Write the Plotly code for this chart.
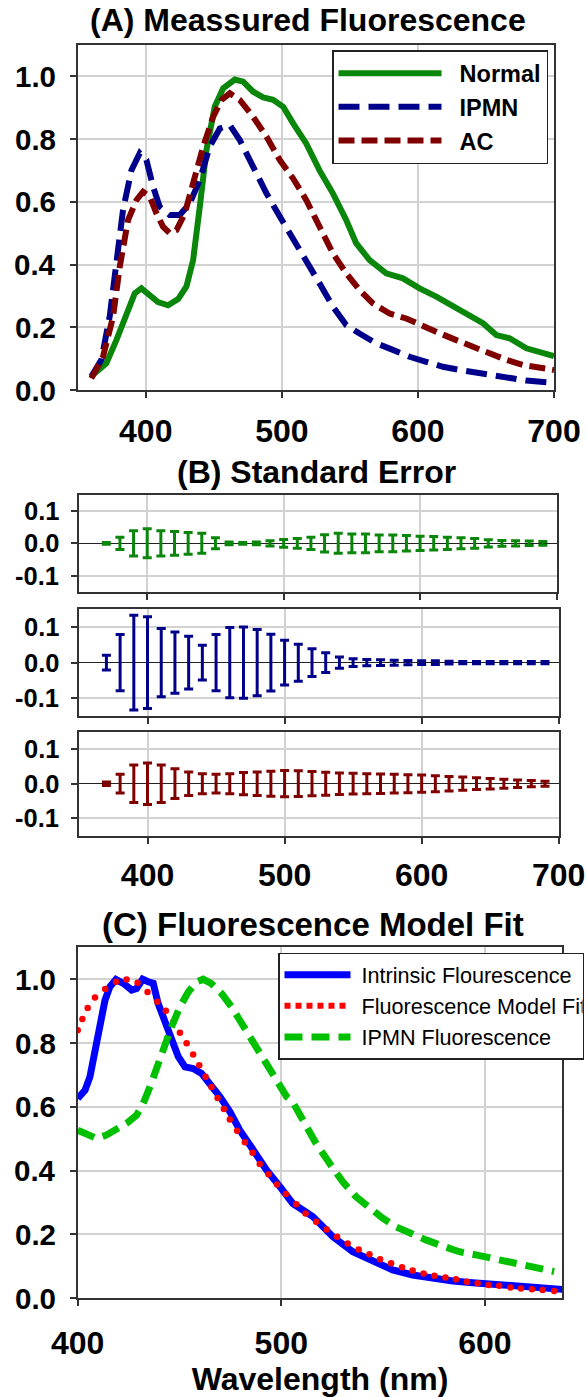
import plotly.graph_objects as go

W, H = 587, 1397

# ---------------- Panel A data ----------------
wl_normal = [361, 371, 378.5, 385.8, 391.9, 396.8, 401.7, 409, 416.4, 423.8, 429.9, 434.8, 439.7, 444.6, 450.7, 456.9,
             465.4, 471.6, 478.9, 486.3, 493.6, 501, 508.3, 517.9, 527.7, 537.5, 547.3, 554.6, 564.5, 576.7, 589,
             601.2, 613.5, 625.7, 638, 647.8, 657.6, 667.4, 679.7, 692, 700]
normal = [0.048, 0.085, 0.16, 0.244, 0.308, 0.324, 0.308, 0.28, 0.27, 0.29, 0.33, 0.414, 0.584, 0.765, 0.903, 0.962,
          0.99, 0.983, 0.951, 0.933, 0.925, 0.903, 0.85, 0.786, 0.70, 0.627, 0.542, 0.468, 0.414, 0.372, 0.356,
          0.324, 0.298, 0.266, 0.234, 0.213, 0.175, 0.165, 0.133, 0.115, 0.108]

wl_ipmn = [360, 367.4, 373.5, 378.5, 383.3, 389.5, 395.6, 400.5, 405.4, 410.3, 417.6, 425, 432.4, 439.7, 447, 454.4,
           461.8, 469.1, 478.9, 488.7, 498.5, 508.2, 517.9, 527.7, 537.5, 547.3, 557.1, 569.3, 581.6, 593.9, 606.1,
           618.4, 630.7, 642.9, 655.1, 667.4, 679.7, 700]
ipmn = [0.043, 0.096, 0.234, 0.393, 0.574, 0.701, 0.755, 0.733, 0.648, 0.584, 0.558, 0.558, 0.595, 0.67, 0.776, 0.834,
        0.845, 0.797, 0.712, 0.627, 0.553, 0.485, 0.414, 0.34, 0.266, 0.207, 0.18, 0.149, 0.128, 0.106, 0.09,
        0.074, 0.064, 0.055, 0.048, 0.037, 0.03, 0.023]

wl_ac = [360, 368.6, 376, 380.9, 387, 393.2, 398, 403, 407.9, 412.7, 417.6, 422.6, 428.7, 434.8, 442.2, 449.5, 455.7,
         461.8, 469.1, 478.9, 488.7, 498.5, 508.2, 517.9, 527.7, 537.5, 547.3, 557.1, 566.9, 579.2, 591.4, 603.7,
         616, 628.2, 640.4, 652.7, 665, 677.2, 689.5, 700]
ac = [0.037, 0.106, 0.234, 0.393, 0.542, 0.606, 0.632, 0.616, 0.563, 0.521, 0.50, 0.51, 0.563, 0.659, 0.776, 0.871, 0.925,
      0.946, 0.925, 0.871, 0.808, 0.733, 0.675, 0.606, 0.52, 0.436, 0.372, 0.319, 0.276, 0.244, 0.228, 0.207,
      0.181, 0.159, 0.138, 0.117, 0.096, 0.08, 0.069, 0.064]

# ---------------- Panel B data (standard error) ----------------
wl_se = [370, 380, 390, 400, 410, 420, 430, 440, 450, 460, 470, 480, 490, 500, 510, 520, 530,
         540, 550, 560, 570, 580, 590, 600, 610, 620, 630, 640, 650, 660, 670, 680, 690]
se_center = [0.0] * len(wl_se)
se_normal = [0.003, 0.019, 0.039, 0.045, 0.039, 0.037, 0.034, 0.031, 0.017, 0.004, 0.003, 0.004, 0.008, 0.012, 0.015, 0.019, 0.027,
             0.031, 0.029, 0.029, 0.026, 0.026, 0.024, 0.022, 0.021, 0.019, 0.017, 0.015, 0.011, 0.009, 0.008, 0.007, 0.006]
se_ipmn = [0.021, 0.079, 0.133, 0.129, 0.096, 0.086, 0.074, 0.049, 0.079, 0.099, 0.1, 0.093, 0.08, 0.063, 0.052, 0.039, 0.028,
           0.016, 0.011, 0.009, 0.008, 0.007, 0.006, 0.005, 0.005, 0.004, 0.003, 0.003, 0.003, 0.003, 0.003, 0.003, 0.003]
se_ac = [0.005, 0.027, 0.054, 0.06, 0.054, 0.043, 0.034, 0.029, 0.027, 0.029, 0.032, 0.034, 0.036, 0.038, 0.037, 0.035, 0.033,
         0.031, 0.03, 0.029, 0.028, 0.027, 0.026, 0.025, 0.023, 0.021, 0.019, 0.017, 0.015, 0.013, 0.011, 0.009, 0.007]

# ---------------- Panel C data ----------------
wl_intr = [400, 403.6, 406, 408.5, 410.9, 413.4, 415.8, 418.8, 422.4, 426.5, 428.9, 431.9, 434.6, 437.1, 439.5, 442.8,
           446.1, 449.4, 452.7, 456.7, 460.8, 464.9, 469.8, 474.7, 479.6, 486.2, 492.7, 499.3, 505.7, 515.5, 525.3,
           535.1, 544.9, 554.7, 564.5, 574.3, 584.2, 594, 603.8, 613.6, 623.4, 633.2, 638]
intrinsic = [0.626, 0.652, 0.694, 0.767, 0.861, 0.934, 0.976, 0.999, 0.987, 0.966, 0.971, 1.0, 0.992, 0.987, 0.924, 0.872,
             0.809, 0.757, 0.725, 0.72, 0.705, 0.673, 0.632, 0.585, 0.527, 0.465, 0.402, 0.35, 0.297, 0.256, 0.193,
             0.146, 0.115, 0.089, 0.073, 0.063, 0.054, 0.049, 0.045, 0.039, 0.034, 0.031, 0.028]

wl_fit = [400, 402.3, 404.9, 408.5, 413.5, 418.8, 424, 429.4, 434.3, 439.1, 443.3, 446.9, 450.2, 453.5, 456.7, 459.7,
          462.8, 465.7, 468.7, 471.8, 474.7, 478.3, 482.1, 485.9, 489.4, 493.7, 497.9, 502.2, 507.3, 511.9, 517.1,
          522.3, 527.4, 532.6, 538, 543.3, 548.5, 553.9, 559.3, 564.5, 569.9, 575.2, 580.6, 585.8, 591.2, 596.4,
          601.8, 607, 612.5, 617.7, 623.1, 628.3, 634]
model_fit = [0.84, 0.875, 0.91, 0.943, 0.969, 0.992, 0.999, 0.989, 0.96, 0.929, 0.901, 0.866, 0.832, 0.799, 0.764, 0.73,
             0.694, 0.662, 0.628, 0.593, 0.56, 0.525, 0.489, 0.456, 0.421, 0.389, 0.357, 0.327, 0.295, 0.266, 0.24,
             0.216, 0.193, 0.172, 0.153, 0.138, 0.122, 0.11, 0.097, 0.087, 0.078, 0.071, 0.065, 0.06, 0.052, 0.047,
             0.042, 0.039, 0.034, 0.031, 0.028, 0.026, 0.023]

wl_ipmnf = [400, 404.4, 409.3, 414.2, 419.1, 424, 428.9, 432.2, 435.5, 438.8, 442, 446.1, 450.2, 454.3, 458.4, 461.6,
            465.7, 470.7, 475.6, 480.5, 485.4, 491.1, 496.8, 502.6, 505.6, 510.6, 517.1, 523.7, 530.2, 536.7, 543.3,
            549.8, 556.3, 562.9, 571, 579.2, 587.4, 595.6, 603.8, 612, 620.1, 628.3, 634]
ipmn_fluor = [0.527, 0.512, 0.501, 0.512, 0.527, 0.548, 0.574, 0.611, 0.663, 0.725, 0.788, 0.851, 0.913, 0.96, 0.992, 1.0,
              0.986, 0.955, 0.913, 0.861, 0.819, 0.757, 0.694, 0.632, 0.615, 0.558, 0.485, 0.423, 0.365, 0.318, 0.282,
              0.251, 0.224, 0.204, 0.183, 0.164, 0.146, 0.136, 0.125, 0.112, 0.099, 0.091, 0.084]

# tick labels
y_ticks_main = [0, 0.2, 0.4, 0.6, 0.8, 1.0]
y_labels_main = ["0.0", "0.2", "0.4", "0.6", "0.8", "1.0"]
y_ticks_se = [-0.1, 0.0, 0.1]
y_labels_se = ["-0.1", "0.0", "0.1"]

# ---------------- styling ----------------
GREEN_A, NAVY, DRED = "#0a860a", "#00008b", "#800000"
BLUE_C, RED_C, GREEN_C = "#0000ff", "#ff0000", "#00c000"
FONT = "Liberation Sans, Arial, sans-serif"
GRID = "#d2d2d2"
FRAME = "#333333"
NB = "\u00a0"


def xd(l, r):
    return [l / W, r / W]


def yd(top, bottom):
    return [1 - bottom / H, 1 - top / H]


fig = go.Figure()

# Panel A
fig.add_trace(go.Scatter(x=wl_normal, y=normal, name=NB * 2 + "Normal", mode="lines",
                         line=dict(color=GREEN_A, width=6), xaxis="x", yaxis="y", legend="legend"))
fig.add_trace(go.Scatter(x=wl_ipmn, y=ipmn, name=NB * 2 + "IPMN", mode="lines",
                         line=dict(color=NAVY, width=6, dash="21px,9px"), xaxis="x", yaxis="y", legend="legend"))
fig.add_trace(go.Scatter(x=wl_ac, y=ac, name=NB * 2 + "AC", mode="lines",
                         line=dict(color=DRED, width=6, dash="16px,7px"), xaxis="x", yaxis="y", legend="legend"))

# Panel B
for i, (err, col) in enumerate([(se_normal, GREEN_A), (se_ipmn, NAVY), (se_ac, DRED)]):
    fig.add_trace(go.Scatter(x=wl_se, y=se_center, mode="markers", showlegend=False,
                             marker=dict(size=2, color=col),
                             error_y=dict(type="data", array=err, color=col, thickness=3, width=4.5),
                             xaxis="x%d" % (i + 2), yaxis="y%d" % (i + 2)))

# Panel C
fig.add_trace(go.Scatter(x=wl_intr, y=intrinsic, name=NB + "Intrinsic Flourescence", mode="lines",
                         line=dict(color=BLUE_C, width=7), xaxis="x5", yaxis="y5", legend="legend2"))
fig.add_trace(go.Scatter(x=wl_fit, y=model_fit, name=NB + "Fluorescence Model Fit", mode="markers",
                         marker=dict(color=RED_C, size=6.5), showlegend=False,
                         xaxis="x5", yaxis="y5", legend="legend2"))
fig.add_trace(go.Scatter(x=[None], y=[None], name=NB + "Fluorescence Model Fit", mode="lines",
                         line=dict(color=RED_C, width=6, dash="6px,5px"),
                         xaxis="x5", yaxis="y5", legend="legend2"))
fig.add_trace(go.Scatter(x=wl_ipmnf, y=ipmn_fluor, name=NB + "IPMN Fluorescence", mode="lines",
                         line=dict(color=GREEN_C, width=7, dash="18px,9px"), xaxis="x5", yaxis="y5", legend="legend2"))

bold = dict(family=FONT, color="black", weight="bold")

common_x = dict(showline=True, linecolor=FRAME, linewidth=2, mirror=True, showgrid=True, gridcolor=GRID, gridwidth=1.8,
                ticks="outside", ticklen=6, tickwidth=2, tickcolor=FRAME, zeroline=False, automargin=False)
common_y = dict(showline=True, linecolor=FRAME, linewidth=2, mirror=True, showgrid=True, gridcolor=GRID, gridwidth=1.8,
                ticks="outside", ticklen=6, tickwidth=1.5, tickcolor=FRAME, automargin=False, showticklabels=False)

layout = dict(
    width=W, height=H, autosize=False, margin=dict(l=0, r=0, t=0, b=0, autoexpand=False),
    paper_bgcolor="white", plot_bgcolor="white", showlegend=True,
    xaxis=dict(common_x, domain=xd(77.7, 554), range=[350, 700], tickvals=[400, 500, 600, 700],
               tickfont=dict(bold, size=32), anchor="y", ticklabelstandoff=6),
    yaxis=dict(common_y, domain=yd(45, 390), range=[0, 1.1], tickvals=y_ticks_main, anchor="x", zeroline=False),
    xaxis5=dict(common_x, domain=xd(77.7, 562.3), range=[400, 638], tickvals=[400, 500, 600],
                tickfont=dict(bold, size=32), anchor="y5", ticklabelstandoff=9,
                title=dict(text="Wavelength (nm)", font=dict(bold, size=32), standoff=0)),
    yaxis5=dict(common_y, domain=yd(947.3, 1298.3), range=[0, 1.1], tickvals=y_ticks_main, anchor="x5",
                zeroline=False),
    legend=dict(x=332 / W, y=1 - 50 / H, xanchor="left", yanchor="top", bgcolor="white",
                bordercolor="#222", borderwidth=1.5, font=dict(bold, size=23.5), itemwidth=103,
                tracegroupgap=0, itemclick=False),
    legend2=dict(x=278 / W, y=1 - 952.7 / H, xanchor="left", yanchor="top", bgcolor="white",
                 bordercolor="#222", borderwidth=1.5, font=dict(family=FONT, size=21.6, color="black"), itemwidth=66,
                 orientation="h", entrywidth=222, entrywidthmode="pixels", tracegroupgap=0),
)

b_rows = [(495, 591.7, 556.5), (609.3, 716, 558.7), (731.7, 835.7, 558.7)]
for i, (t, b, r) in enumerate(b_rows):
    n = i + 2
    layout["xaxis%d" % n] = dict(common_x, domain=xd(79, r), range=[350, 700], tickvals=[400, 500, 600, 700],
                                 showticklabels=(i == 2), tickfont=dict(bold, size=32), anchor="y%d" % n,
                                 ticklabelstandoff=4)
    layout["yaxis%d" % n] = dict(common_y, domain=yd(t, b), range=[-0.15, 0.15], tickvals=y_ticks_se,
                                 anchor="x%d" % n, zeroline=True, zerolinecolor="#222", zerolinewidth=1.2)

annotations = []
titles = [("(A) Meassured Fluorescence", 308, 20, 32), ("(B) Standard Error", 316.5, 472, 32),
          ("(C) Fluorescence Model Fit", 312.5, 924, 33)]
for t, cx, cy, fs in titles:
    annotations.append(dict(text=t, x=cx / W, y=1 - cy / H, xref="paper", yref="paper", xanchor="center",
                            yanchor="middle", showarrow=False, font=dict(bold, size=fs)))

# y tick labels placed on each axis' own scale
for yref, xr in [("y", 57.5), ("y5", 57.5)]:
    for v, lab in zip(y_ticks_main, y_labels_main):
        annotations.append(dict(text=lab, x=xr / W, xref="paper", y=v, yref=yref, xanchor="right",
                                yanchor="middle", showarrow=False, font=dict(bold, size=29.5)))
for yref in ["y2", "y3", "y4"]:
    for v, lab in zip(y_ticks_se, y_labels_se):
        annotations.append(dict(text=lab, x=61 / W, xref="paper", y=v, yref=yref, xanchor="right",
                                yanchor="middle", showarrow=False, font=dict(bold, size=25.5)))
layout["annotations"] = annotations

fig.update_layout(layout)
fig.write_html(
    "out.html",
    config={"responsive": False},
    post_script="document.body.style.margin='0';document.documentElement.style.overflow='hidden';"
                "document.body.style.overflow='hidden';",
)
